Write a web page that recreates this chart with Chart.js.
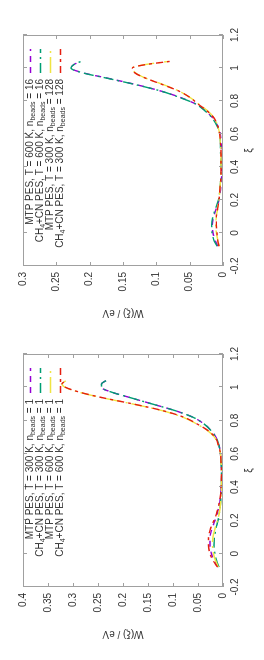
<!DOCTYPE html>
<html>
<head>
<meta charset="utf-8">
<script src="https://cdn.jsdelivr.net/npm/chart.js@4.4.1/dist/chart.umd.min.js"></script>
<style>
  html, body { margin: 0; padding: 0; background: #fff; overflow: hidden; }
  .panel { position: absolute; left: 0; top: 0; width: 330px; height: 264px; transform-origin: 0 0; }
  #p16 { transform: translate(0, 330px) rotate(-90deg); }
  #p1 { transform: translate(0, 660px) rotate(-90deg); }
</style>
</head>
<body>
<div class="panel" id="p16"><canvas id="chart16" width="330" height="264"></canvas></div>
<div class="panel" id="p1"><canvas id="chart1" width="330" height="264"></canvas></div>
<script>
// reaction coordinate grid shared by all curves
var xi = [-0.08, -0.04, 0, 0.05, 0.1, 0.15, 0.2, 0.25, 0.3, 0.35, 0.4, 0.45, 0.5, 0.55,
          0.6, 0.65, 0.7, 0.74, 0.78, 0.82, 0.86, 0.9, 0.94, 0.97, 1.0, 1.02, 1.04];
var xiTicks = [-0.2, 0, 0.2, 0.4, 0.6, 0.8, 1, 1.2];
var wTicks16 = [0, 0.05, 0.1, 0.15, 0.2, 0.25, 0.3];
var wTicks1 = [0, 0.05, 0.1, 0.15, 0.2, 0.25, 0.3, 0.35, 0.4];

// n_beads = 16 panel
var mtp600_16 = [0.008, 0.012, 0.015, 0.016, 0.014, 0.010, 0.006, 0.004, 0.003, 0.002, 0.002, 0.002, 0.002, 0.003,
                 0.004, 0.008, 0.016, 0.026, 0.040, 0.063, 0.093, 0.131, 0.175, 0.209, 0.228, 0.224, 0.214];
var cn600_16 = [0.009, 0.014, 0.0165, 0.017, 0.015, 0.011, 0.007, 0.005, 0.004, 0.003, 0.003, 0.003, 0.004, 0.004,
                0.005, 0.009, 0.017, 0.027, 0.040, 0.064, 0.093, 0.132, 0.176, 0.210, 0.228, 0.224, 0.213];
var mtp300_16 = [0.006, 0.008, 0.010, 0.011, 0.010, 0.008, 0.006, 0.005, 0.004, 0.003, 0.003, 0.003, 0.003, 0.004,
                 0.005, 0.008, 0.014, 0.023, 0.036, 0.049, 0.066, 0.090, 0.117, 0.131, 0.136, 0.118, 0.082];
var cn300_16 = [0.006, 0.008, 0.009, 0.010, 0.010, 0.008, 0.006, 0.005, 0.004, 0.003, 0.003, 0.003, 0.003, 0.004,
                0.005, 0.008, 0.014, 0.024, 0.037, 0.049, 0.066, 0.091, 0.117, 0.132, 0.136, 0.117, 0.080];
var labels16 = ['MTP PES, T = 600 K, n_{beads} = 16', 'CH_4+CN PES, T = 600 K, n_{beads} = 16',
                'MTP PES, T = 300 K, n_{beads} = 128', 'CH_4+CN PES, T = 300 K, n_{beads} = 128'];

// n_beads = 1 panel
var mtp300_1 = [0.010, 0.018, 0.023, 0.026, 0.026, 0.022, 0.016, 0.011, 0.007, 0.005, 0.004, 0.003, 0.003, 0.004,
                0.005, 0.008, 0.014, 0.024, 0.038, 0.060, 0.096, 0.142, 0.188, 0.222, 0.243, 0.243, 0.234];
var cn300_1 = [0.008, 0.013, 0.016, 0.018, 0.017, 0.014, 0.010, 0.007, 0.005, 0.004, 0.003, 0.003, 0.003, 0.004,
               0.005, 0.008, 0.014, 0.024, 0.038, 0.060, 0.096, 0.142, 0.188, 0.222, 0.243, 0.243, 0.234];
var mtp600_1 = [0.009, 0.015, 0.019, 0.021, 0.020, 0.016, 0.011, 0.007, 0.005, 0.004, 0.003, 0.003, 0.003, 0.004,
                0.005, 0.009, 0.017, 0.031, 0.053, 0.080, 0.122, 0.181, 0.246, 0.287, 0.316, 0.322, 0.314];
var cn600_1 = [0.011, 0.020, 0.026, 0.029, 0.029, 0.025, 0.018, 0.012, 0.008, 0.005, 0.004, 0.003, 0.003, 0.004,
               0.005, 0.009, 0.016, 0.030, 0.052, 0.078, 0.121, 0.180, 0.245, 0.286, 0.315, 0.322, 0.314];
var labels1 = ['MTP PES, T = 300 K, n_{beads} = 1', 'CH_4+CN PES, T = 300 K, n_{beads} = 1',
               'MTP PES, T = 600 K, n_{beads} = 1', 'CH_4+CN PES, T = 600 K, n_{beads} = 1'];

var colors = ['#9400d3', '#009e73', '#f0e442', '#e51e10'];
var dashes = [[6, 5], [10, 4, 2, 4], [16, 4, 2, 4], [7, 4, 3, 4]];
var FONT = '"Liberation Sans", Arial, sans-serif';
var TXT = '#333';

// gnuplot style numbers: 0, 0.05, 1, 1.2
function plainNum(v) {
    return String(Math.round(v * 1000) / 1000);
}

// split "n_{beads}" style labels into normal and subscript runs
function splitLabel(label) {
    var out = [], re = /_(\{([^}]*)\}|(.))/g, last = 0, m;
    while ((m = re.exec(label))) {
        if (m.index > last) out.push({ t: label.slice(last, m.index), sub: false });
        out.push({ t: m[2] !== undefined ? m[2] : m[3], sub: true });
        last = re.lastIndex;
    }
    if (last < label.length) out.push({ t: label.slice(last), sub: false });
    return out;
}

// gnuplot-like border, inward tick marks and key
var gnuFrame = {
    id: 'gnuFrame',
    afterDraw: function(chart, args, opts) {
        var ctx = chart.ctx, a = chart.chartArea;
        var xs = chart.scales.x, ys = chart.scales.y;
        ctx.save();
        ctx.strokeStyle = '#a0a0a0';
        ctx.lineWidth = 1;
        ctx.strokeRect(a.left + 0.5, a.top + 0.5, a.right - a.left - 1, a.bottom - a.top - 1);
        ctx.beginPath();
        xiTicks.forEach(function(v) {
            var px = Math.round(xs.getPixelForValue(v)) + 0.5;
            ctx.moveTo(px, a.bottom); ctx.lineTo(px, a.bottom - 4);
            ctx.moveTo(px, a.top); ctx.lineTo(px, a.top + 4);
        });
        opts.wTicks.forEach(function(v) {
            var py = Math.round(ys.getPixelForValue(v)) + 0.5;
            ctx.moveTo(a.left, py); ctx.lineTo(a.left + 4, py);
            ctx.moveTo(a.right, py); ctx.lineTo(a.right - 4, py);
        });
        ctx.stroke();

        var mainFont = '10px ' + FONT, subFont = '7px ' + FONT;
        ctx.textBaseline = 'middle';
        ctx.textAlign = 'left';
        opts.labels.forEach(function(lab, i) {
            var y = opts.top + i * opts.step;
            var runs = splitLabel(lab), w = 0;
            runs.forEach(function(r) {
                ctx.font = r.sub ? subFont : mainFont;
                r.w = ctx.measureText(r.t).width;
                w += r.w;
            });
            var x = opts.textRight - w;
            ctx.fillStyle = TXT;
            runs.forEach(function(r) {
                ctx.font = r.sub ? subFont : mainFont;
                ctx.fillText(r.t, x, r.sub ? y + 3 : y);
                x += r.w;
            });
            ctx.strokeStyle = colors[i];
            ctx.lineWidth = 1.4;
            ctx.setLineDash(dashes[i]);
            ctx.beginPath();
            ctx.moveTo(opts.sampleFrom, y + 0.5);
            ctx.lineTo(opts.sampleTo, y + 0.5);
            ctx.stroke();
        });
        ctx.restore();
    }
};

function makeChart(id, series, labels, wTicks, pad, key) {
    return new Chart(document.getElementById(id), {
        type: 'line',
        data: {
            datasets: series.map(function(ys, i) {
                return {
                    label: labels[i],
                    data: xi.map(function(x, k) { return { x: x, y: ys[k] }; }),
                    borderColor: colors[i],
                    borderDash: dashes[i],
                    borderWidth: 1.4,
                    pointRadius: 0,
                    fill: false,
                    cubicInterpolationMode: 'monotone',
                    order: series.length - i
                };
            })
        },
        options: {
            responsive: false,
            animation: false,
            events: [],
            layout: { padding: pad },
            plugins: {
                legend: { display: false },
                tooltip: { enabled: false },
                gnuFrame: Object.assign({ labels: labels, wTicks: wTicks }, key)
            },
            scales: {
                x: {
                    type: 'linear', min: -0.2, max: 1.2,
                    afterBuildTicks: function(s) { s.ticks = xiTicks.map(function(v) { return { value: v }; }); },
                    afterFit: function(s) { s.height = 41; },
                    grid: { display: false, drawTicks: false },
                    border: { display: false },
                    ticks: { padding: 6, color: TXT, autoSkip: false, maxRotation: 0, callback: plainNum,
                             font: { family: FONT, size: 10 } },
                    title: { display: true, text: 'ξ', color: TXT, padding: { top: 0, bottom: 9 }, font: { family: FONT, size: 10 } }
                },
                y: {
                    type: 'linear', min: 0, max: wTicks[wTicks.length - 1],
                    afterBuildTicks: function(s) { s.ticks = wTicks.map(function(v) { return { value: v }; }); },
                    afterFit: function(s) { s.width = 64; },
                    grid: { display: false, drawTicks: false },
                    border: { display: false },
                    ticks: { padding: 6, color: TXT, callback: plainNum, font: { family: FONT, size: 10 } },
                    title: { display: true, text: 'W(ξ) / eV', color: TXT, padding: { top: 11, bottom: 0 }, font: { family: FONT, size: 10 } }
                }
            }
        },
        plugins: [gnuFrame]
    });
}

makeChart('chart16', [mtp600_16, cn600_16, mtp300_16, cn300_16], labels16, wTicks16,
    { left: 0, right: 35, top: 23, bottom: 0 },
    { top: 30, step: 10, textRight: 251, sampleFrom: 257, sampleTo: 281 });
makeChart('chart1', [mtp300_1, cn300_1, mtp600_1, cn600_1], labels1, wTicks1,
    { left: 9, right: 24, top: 23, bottom: 0 },
    { top: 30, step: 10, textRight: 261, sampleFrom: 267, sampleTo: 292 });
</script>
</body>
</html>
